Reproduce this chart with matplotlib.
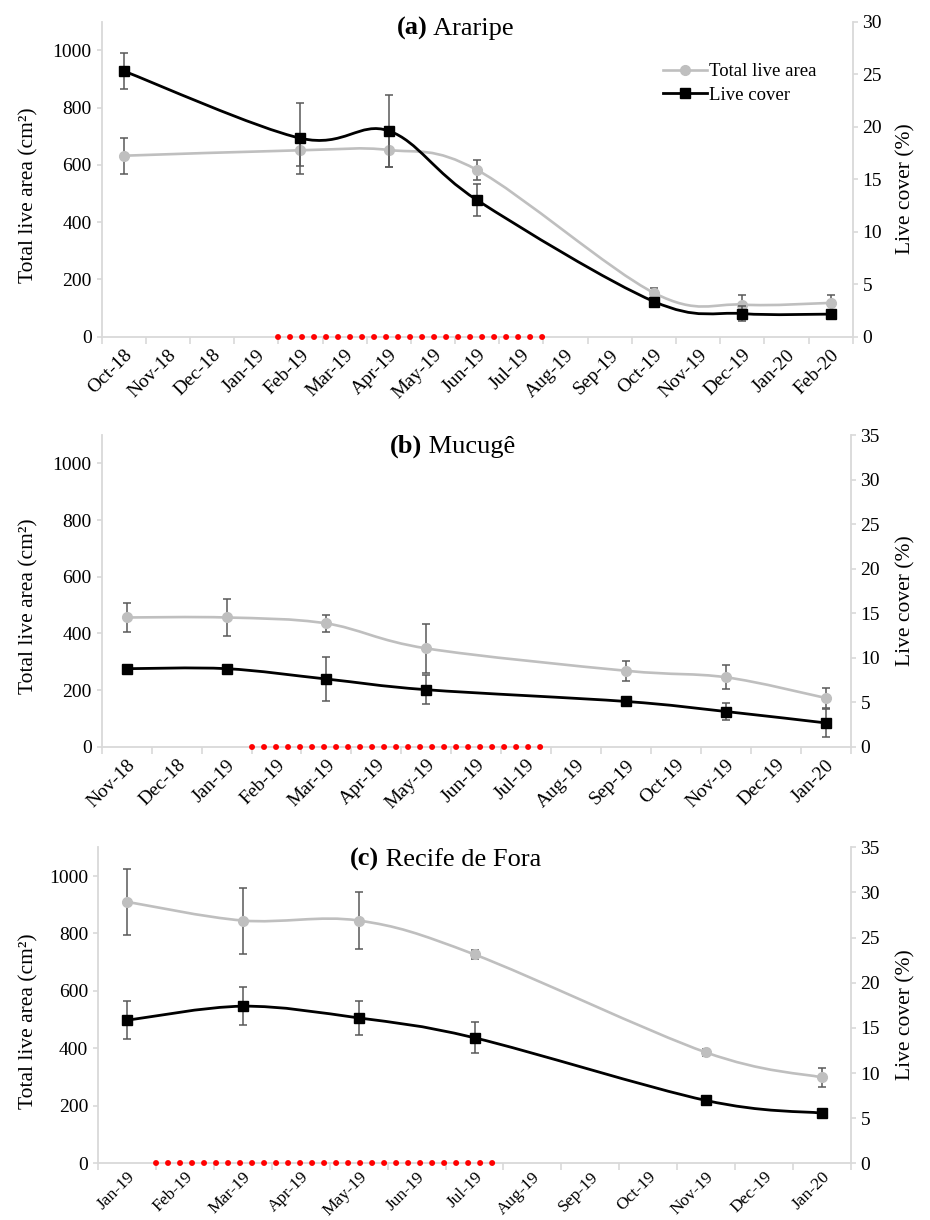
import numpy as np
import matplotlib
matplotlib.use('Agg')
import matplotlib.pyplot as plt
from matplotlib.path import Path
from matplotlib.patches import PathPatch
from matplotlib.lines import Line2D

plt.rcParams['font.family'] = ['Liberation Serif', 'DejaVu Serif']

# ---- data ----
a_months = ['Oct-18', 'Nov-18', 'Dec-18', 'Jan-19', 'Feb-19', 'Mar-19', 'Apr-19', 'May-19', 'Jun-19',
            'Jul-19', 'Aug-19', 'Sep-19', 'Oct-19', 'Nov-19', 'Dec-19', 'Jan-20', 'Feb-20']
a_dates = ['Oct-18', 'Feb-19', 'Apr-19', 'Jun-19', 'Oct-19', 'Dec-19', 'Feb-20']
a_area = [632, 651, 652, 582, 153, 112, 118]
a_area_err = [63, 54, 58, 35, 18, 33, 27]
a_cover = [25.3, 18.9, 19.6, 13.0, 3.35, 2.2, 2.15]
a_cover_err = [1.75, 3.4, 3.4, 1.5, 0.3, 0.75, 0.3]

b_months = ['Nov-18', 'Dec-18', 'Jan-19', 'Feb-19', 'Mar-19', 'Apr-19', 'May-19', 'Jun-19', 'Jul-19',
            'Aug-19', 'Sep-19', 'Oct-19', 'Nov-19', 'Dec-19', 'Jan-20']
b_dates = ['Nov-18', 'Jan-19', 'Mar-19', 'May-19', 'Sep-19', 'Nov-19', 'Jan-20']
b_area = [456, 456, 435, 347, 268, 245, 172]
b_area_err = [51, 64, 29, 86, 35, 42, 35]
b_cover = [8.76, 8.76, 7.6, 6.4, 5.08, 3.95, 2.67]
b_cover_err = [0.3, 0.3, 2.5, 1.6, 0.5, 1.0, 1.6]

c_months = ['Jan-19', 'Feb-19', 'Mar-19', 'Apr-19', 'May-19', 'Jun-19', 'Jul-19', 'Aug-19', 'Sep-19',
            'Oct-19', 'Nov-19', 'Dec-19', 'Jan-20']
c_dates = ['Jan-19', 'Mar-19', 'May-19', 'Jul-19', 'Nov-19', 'Jan-20']
c_area = [910, 845, 845, 727, 386, 299]
c_area_err = [115, 115, 100, 15, 12, 34]
c_cover = [15.85, 17.4, 16.1, 13.9, 6.96, 5.56]
c_cover_err = [2.1, 2.1, 1.9, 1.7, 0.4, 0.3]

dry_months = ['Feb-19', 'Jul-19']   # red dotted bar on the x axis

GREY = '#BFBFBF'
ERR = '#595959'
SPINE = '#D9D9D9'
W, H = 930, 1220

fig = plt.figure(figsize=(W / 100, H / 100), dpi=100)


def smooth_path(x, y):
    # Excel style smoothed line (Catmull-Rom as cubic Bezier)
    pts = np.column_stack([x, y]).astype(float)
    n = len(pts)
    verts = [pts[0]]
    codes = [Path.MOVETO]
    for i in range(n - 1):
        p0 = pts[max(i - 1, 0)]
        p1 = pts[i]
        p2 = pts[i + 1]
        p3 = pts[min(i + 2, n - 1)]
        verts += [p1 + (p2 - p0) / 6, p2 - (p3 - p1) / 6, p2]
        codes += [Path.CURVE4] * 3
    return Path(verts, codes)


def draw_panel(box, months, dates, area, area_err, cover, cover_err, cover_max,
               tag, site, title_pos, legend=False, xlab_size=14, xlab_pad=7):
    l, t, r, b = box
    ax = fig.add_axes([l / W, 1 - b / H, (r - l) / W, (b - t) / H])
    ax2 = ax.twinx()
    x = np.array([months.index(d) for d in dates], float)

    # total live area (left axis)
    ax.errorbar(x, area, yerr=area_err, fmt='none', ecolor=ERR, elinewidth=1.1,
                capsize=3.2, capthick=1.1, zorder=2)
    ax.add_patch(PathPatch(smooth_path(x, area), fill=False, ec=GREY, lw=1.9, zorder=3))
    ax.plot(x, area, ls='none', marker='o', ms=7, color=GREY, zorder=4)

    # live cover (right axis)
    ax2.errorbar(x, cover, yerr=cover_err, fmt='none', ecolor=ERR, elinewidth=1.1,
                 capsize=3.2, capthick=1.1, zorder=2)
    ax2.add_patch(PathPatch(smooth_path(x, cover), fill=False, ec='black', lw=2.0, zorder=3))
    ax2.plot(x, cover, ls='none', marker='s', ms=7.2, color='black', zorder=4)

    # dry period
    d0 = months.index(dry_months[0]) - 0.5
    d1 = months.index(dry_months[1]) + 0.5
    ax2.plot([d0, d1], [0, 0], color='#FF0000', lw=4.3, ls=(0, (0.01, 2.0)),
             dash_capstyle='round', clip_on=False, zorder=6)

    n = len(months)
    ax.set_xlim(-0.5, n - 0.5)
    ax.set_ylim(0, 1100)
    ax.set_yticks(np.arange(0, 1001, 200))
    ax2.set_ylim(0, cover_max)
    ax2.set_yticks(np.arange(0, cover_max + 1, 5))
    ax.set_xticks(np.arange(n))
    ax.set_xticks(np.arange(n + 1) - 0.5, minor=True)
    ax.set_xticklabels(months, rotation=45, ha='right', rotation_mode='anchor')
    ax.tick_params(axis='x', which='major', length=0, pad=xlab_pad, labelsize=xlab_size)
    ax.tick_params(axis='x', which='minor', length=5, width=1.2, color=SPINE)
    ax.tick_params(axis='y', length=3.6, width=1.2, color=SPINE, pad=3.6, labelsize=14)
    ax2.tick_params(axis='y', length=3.6, width=1.2, color=SPINE, pad=3.5, labelsize=14)

    for s in ['top', 'right']:
        ax.spines[s].set_visible(False)
    for s in ['top', 'left', 'bottom']:
        ax2.spines[s].set_visible(False)
    for sp in [ax.spines['left'], ax.spines['bottom'], ax2.spines['right']]:
        sp.set_color(SPINE)
        sp.set_linewidth(1.3)

    ax.set_ylabel('Total live area (cm²)', fontsize=15.5)
    ax.yaxis.set_label_coords((38 - l) / (r - l), 0.45)
    ax2.set_ylabel('Live cover (%)', fontsize=15.5)
    ax2.yaxis.set_label_coords((896 - l) / (r - l), 0.47)

    tx, ty = title_pos
    t1 = fig.text(tx / W, 1 - ty / H, tag, fontsize=19, fontweight='bold', va='baseline')
    ax2.annotate(' ' + site, xy=(1, 0), xycoords=t1, va='bottom', fontsize=19)

    if legend:
        handles = [Line2D([], [], color=GREY, lw=1.9, marker='o', ms=7),
                   Line2D([], [], color='black', lw=2.0, marker='s', ms=7.2)]
        ax2.legend(handles, ['Total live area', 'Live cover'], loc='upper left',
                   bbox_to_anchor=((663 - l) / (r - l), (b - 63) / (b - t)),
                   frameon=False, fontsize=13.5, handlelength=2.35, handletextpad=0.1,
                   labelspacing=0.36, borderpad=0, borderaxespad=0)
    return ax, ax2


draw_panel((101.7, 21.7, 852.7, 336.7), a_months, a_dates, a_area, a_area_err,
           a_cover, a_cover_err, 30, '(a)', 'Araripe', (397, 35), legend=True)
draw_panel((101.7, 435, 850.7, 746.7), b_months, b_dates, b_area, b_area_err,
           b_cover, b_cover_err, 35, '(b)', 'Mucugê', (390, 453))
draw_panel((98.3, 847.3, 850.7, 1163.3), c_months, c_dates, c_area, c_area_err,
           c_cover, c_cover_err, 35, '(c)', 'Recife de Fora', (350, 866),
           xlab_size=12.5, xlab_pad=4)

fig.savefig('out.png', dpi=100)
